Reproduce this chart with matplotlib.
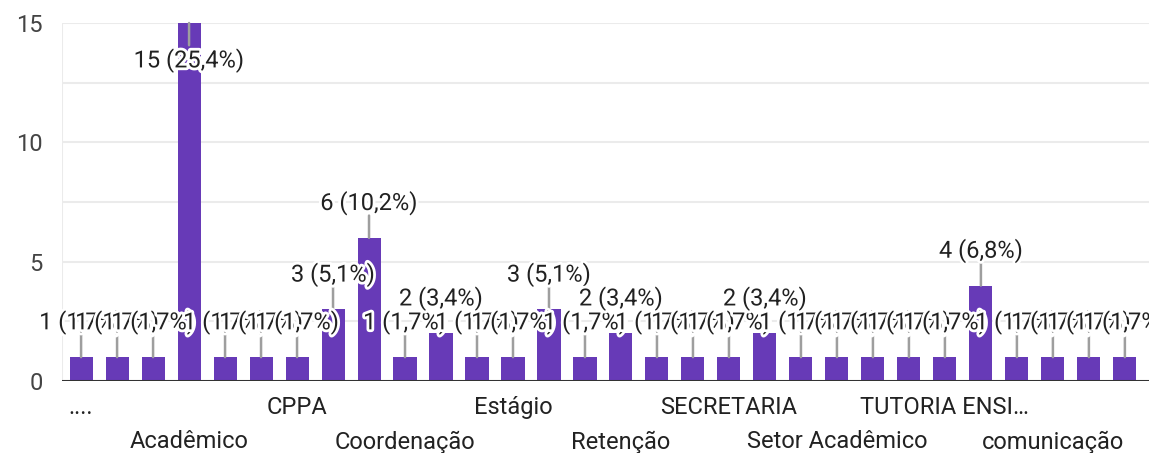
import matplotlib.pyplot as plt
import matplotlib.patheffects as pe

plt.rcParams['font.family'] = ['Roboto', 'DejaVu Sans']

# 30 categories (alphabetical, as the form sorts them); only every third name is shown
labels = ['....', '', '', 'Acadêmico', '', '', 'CPPA', '', '', 'Coordenação',
          '', '', 'Estágio', '', '', 'Retenção', '', '', 'SECRETARIA', '',
          '', 'Setor Acadêmico', '', '', 'TUTORIA ENSI…', '', '', 'comunicação', '', '']
counts = [1, 1, 1, 15, 1, 1, 1, 3, 6, 1,
          2, 1, 1, 3, 1, 2, 1, 1, 1, 2,
          1, 1, 1, 1, 1, 4, 1, 1, 1, 1]
yticks = [0, 5, 10, 15]

total = sum(counts)
purple = '#673ab7'

fig = plt.figure(figsize=(11.49, 4.53), dpi=100)
ax = fig.add_axes([62 / 1149, 72 / 453, 1087 / 1149, 358 / 453])

x = list(range(len(counts)))
ax.bar(x, counts, width=0.64, color=purple, zorder=2)

grid = [0, 2.5, 5, 7.5, 10, 12.5, 15]
ax.set_xlim(-0.53, 29.67)
ax.set_ylim(0, 15)
ax.set_yticks(grid)
ax.set_yticklabels([str(t) if t in yticks else '' for t in grid])
ax.grid(axis='y', color='#ebebeb', lw=1.5, zorder=0)
ax.axhline(0, color='#333333', lw=2.2, zorder=3)
ax.axvline(-0.53, color='#ebebeb', lw=1.5, zorder=0)
for s in ax.spines.values():
    s.set_visible(False)

shown = [i for i, l in enumerate(labels) if l]
ax.set_xticks(shown)
ax.set_xticklabels([('\n' if k % 2 else '') + labels[i] for k, i in enumerate(shown)],
                   linespacing=1.62)
ax.tick_params(axis='x', length=0, pad=11, labelsize=17, labelcolor='#222222')
ax.tick_params(axis='y', length=0, pad=14, labelsize=17, labelcolor='#444444')

stroke = [pe.withStroke(linewidth=4, foreground='white')]
# leader lines first, then labels on top
for i, v in enumerate(counts):
    up = -1 if v == max(counts) else 1
    ax.annotate('', xy=(i, v), xytext=(0, 16 * up), textcoords='offset points',
                arrowprops=dict(arrowstyle='-', color='#9e9e9e', lw=1.8,
                                shrinkA=0, shrinkB=0), zorder=4)
for i, v in enumerate(counts):
    off = -27 if v == max(counts) else 25
    pct = f'{100 * v / total:.1f}'.replace('.', ',')
    ax.annotate(f'{v} ({pct}%)', xy=(i, v), xytext=(0, off),
                textcoords='offset points', ha='center', va='center',
                fontsize=17, color='#212121', path_effects=stroke,
                annotation_clip=False, zorder=5)

fig.savefig('out.png', dpi=100)
